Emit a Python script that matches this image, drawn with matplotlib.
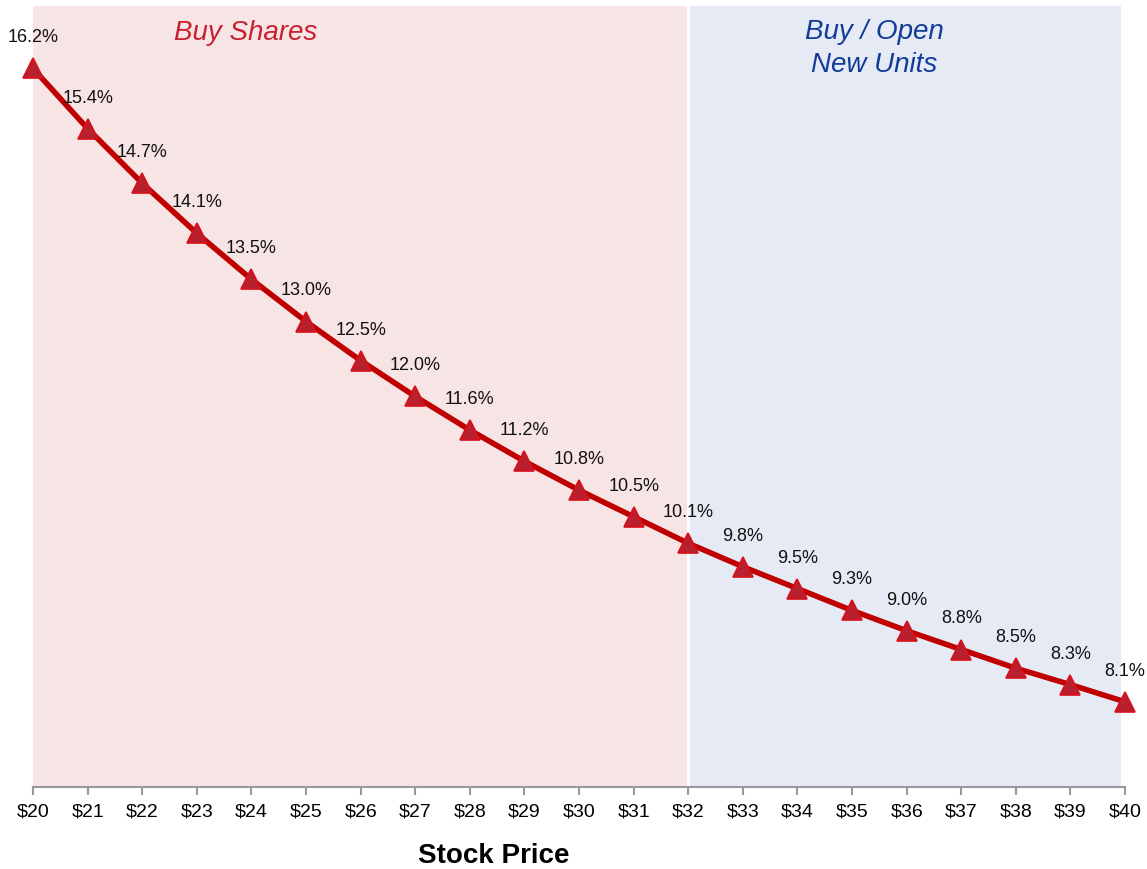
import matplotlib.pyplot as plt

plt.rcParams['font.family'] = ['Liberation Sans', 'DejaVu Sans']

# Data (yield at each stock price)
prices = list(range(20, 41))
yields = [16.20, 15.43, 14.73, 14.09, 13.50, 12.96, 12.46, 12.00, 11.57, 11.17,
          10.80, 10.46, 10.12, 9.82, 9.54, 9.26, 9.00, 8.76, 8.52, 8.31, 8.09]
tick_labels = ["$%d" % p for p in prices]
split_price = 32

fig = plt.figure(figsize=(11.47, 8.69), dpi=100)
ax = fig.add_axes([0.0288, 0.0944, 0.9521, 0.8987])

# Background regions
ax.axvspan(20, split_price, color="#F7E4E5", zorder=0, lw=0)
ax.axvspan(split_price, 39.92, color="#E6EAF4", zorder=0, lw=0)
ax.axvline(split_price, color="white", lw=2, zorder=1)

ax.plot(prices, yields, color="#C00000", lw=4, zorder=3, clip_on=False,
        marker="^", markersize=15, markerfacecolor="#B8202E",
        markeredgecolor="#D8101C", markeredgewidth=1.2)

for x, y in zip(prices, yields):
    ax.annotate("%.1f%%" % y, (x, y), xytext=(0, 22), textcoords="offset points",
                ha="center", va="center", fontsize=13, color="#111111")

ax.text(23.9, 16.65, "Buy Shares", color="#C8202F", fontsize=20,
        style="italic", ha="center", va="center")
ax.text(35.4, 16.45, "Buy / Open\nNew Units", color="#123C98", fontsize=20,
        style="italic", ha="center", va="center", linespacing=1.35)

ax.set_xlim(20, 40)
ax.set_ylim(7, 17)
ax.set_xticks(prices)
ax.set_xticklabels(tick_labels, fontsize=14)
ax.set_yticks([])
for side in ["left", "right", "top"]:
    ax.spines[side].set_visible(False)
ax.spines["bottom"].set_color("#999999")
ax.spines["bottom"].set_linewidth(1.5)
ax.tick_params(axis="x", color="#999999", length=6, width=1.5, pad=6)
ax.set_xlabel("Stock Price", fontsize=20, fontweight="bold", va="center")
ax.xaxis.set_label_coords(0.422, -0.088)

fig.savefig("out.png", dpi=100)
